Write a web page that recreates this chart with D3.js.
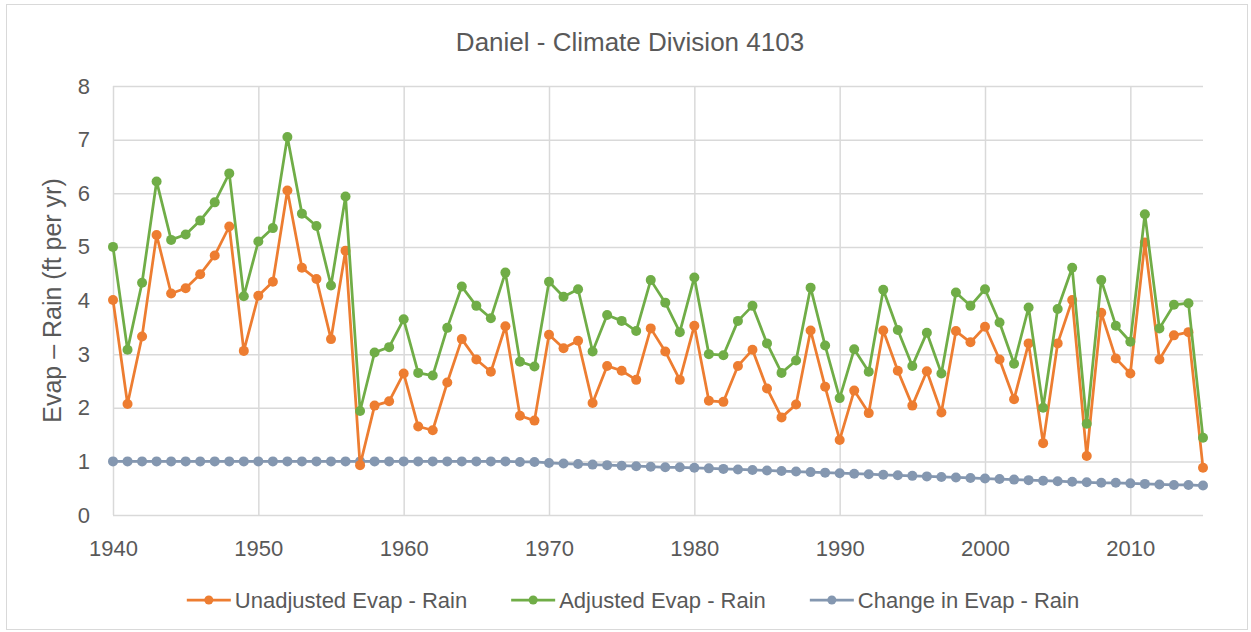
<!DOCTYPE html>
<html>
<head>
<meta charset="utf-8">
<script src="https://cdn.jsdelivr.net/npm/d3@7"></script>
<style>
  body { margin: 0; background: #ffffff; }
  svg { display: block; font-family: "Liberation Sans", Arial, sans-serif; }
</style>
</head>
<body>
<div id="chart"></div>
<script>
// years on the x axis
var years = [1940, 1941, 1942, 1943, 1944, 1945, 1946, 1947, 1948, 1949,
    1950, 1951, 1952, 1953, 1954, 1955, 1956, 1957, 1958, 1959,
    1960, 1961, 1962, 1963, 1964, 1965, 1966, 1967, 1968, 1969,
    1970, 1971, 1972, 1973, 1974, 1975, 1976, 1977, 1978, 1979,
    1980, 1981, 1982, 1983, 1984, 1985, 1986, 1987, 1988, 1989,
    1990, 1991, 1992, 1993, 1994, 1995, 1996, 1997, 1998, 1999,
    2000, 2001, 2002, 2003, 2004, 2005, 2006, 2007, 2008, 2009,
    2010, 2011, 2012, 2013, 2014, 2015];

var unadjusted = [4.01, 2.07, 3.33, 5.22, 4.13, 4.23, 4.49, 4.84, 5.38, 3.06,
    4.09, 4.35, 6.05, 4.61, 4.40, 3.28, 4.93, 0.93, 2.04, 2.12,
    2.64, 1.65, 1.58, 2.47, 3.28, 2.90, 2.67, 3.52, 1.85, 1.76,
    3.36, 3.11, 3.25, 2.09, 2.78, 2.69, 2.52, 3.48, 3.05, 2.52,
    3.53, 2.13, 2.11, 2.78, 3.08, 2.36, 1.82, 2.06, 3.44, 2.39,
    1.40, 2.32, 1.90, 3.44, 2.69, 2.04, 2.68, 1.91, 3.43, 3.22,
    3.51, 2.90, 2.16, 3.20, 1.34, 3.20, 4.01, 1.10, 3.77, 2.92,
    2.64, 5.08, 2.90, 3.35, 3.41, 0.88];

var adjusted = [5.00, 3.08, 4.33, 6.22, 5.13, 5.23, 5.49, 5.83, 6.37, 4.08,
    5.10, 5.35, 7.05, 5.62, 5.39, 4.28, 5.94, 1.94, 3.03, 3.13,
    3.65, 2.65, 2.60, 3.49, 4.26, 3.90, 3.67, 4.52, 2.86, 2.77,
    4.35, 4.07, 4.21, 3.05, 3.73, 3.62, 3.43, 4.38, 3.96, 3.41,
    4.43, 3.00, 2.98, 3.62, 3.90, 3.20, 2.65, 2.88, 4.24, 3.16,
    2.18, 3.09, 2.67, 4.20, 3.45, 2.78, 3.40, 2.64, 4.15, 3.90,
    4.21, 3.59, 2.82, 3.87, 2.00, 3.84, 4.61, 1.70, 4.38, 3.53,
    3.23, 5.61, 3.48, 3.92, 3.95, 1.44];

var change = [1.00, 1.00, 1.00, 1.00, 1.00, 1.00, 1.00, 1.00, 1.00, 1.00,
    1.00, 1.00, 1.00, 1.00, 1.00, 1.00, 1.00, 1.00, 1.00, 1.00,
    1.00, 1.00, 1.00, 1.00, 1.00, 1.00, 1.00, 1.00, 0.99, 0.99,
    0.97, 0.96, 0.95, 0.94, 0.93, 0.92, 0.91, 0.90, 0.89, 0.89,
    0.88, 0.87, 0.86, 0.85, 0.84, 0.83, 0.82, 0.81, 0.80, 0.79,
    0.78, 0.77, 0.76, 0.75, 0.74, 0.73, 0.72, 0.71, 0.70, 0.69,
    0.68, 0.67, 0.66, 0.65, 0.64, 0.63, 0.62, 0.61, 0.60, 0.60,
    0.59, 0.58, 0.57, 0.56, 0.56, 0.55];

var xTicks = [1940, 1950, 1960, 1970, 1980, 1990, 2000, 2010];
var yTicks = [0, 1, 2, 3, 4, 5, 6, 7, 8];
var seriesNames = ["Unadjusted Evap - Rain", "Adjusted Evap - Rain", "Change in Evap - Rain"];
var seriesColours = ["#ED7D31", "#70AD47", "#8497B0"];

//=================== SETUP ====================================
var svgWidth = 1251;
var svgHeight = 632;
var plotLeft = 113, plotRight = 1203, plotTop = 86, plotBottom = 515;
var textColour = "#595959";
var gridColour = "#d9d9d9";

var svg = d3.select("#chart").append("svg")
    .attr("width", svgWidth)
    .attr("height", svgHeight);

// outer chart border
svg.append("rect")
    .attr("x", 6.5).attr("y", 4.5)
    .attr("width", 1241).attr("height", 625)
    .attr("fill", "#ffffff")
    .attr("stroke", "#d9d9d9")
    .attr("stroke-width", 1);

var xScale = d3.scaleLinear().domain([1940, 2015]).range([plotLeft, plotRight]);
var yScale = d3.scaleLinear().domain([0, 8]).range([plotBottom, plotTop]);

//=================== AXES + GRID ====================================
var yAxis = svg.append("g")
    .attr("transform", "translate(" + plotLeft + ",0)")
    .call(d3.axisLeft(yScale).tickValues(yTicks).tickFormat(d3.format("d"))
        .tickSize(-(plotRight - plotLeft)).tickPadding(23));

var xAxis = svg.append("g")
    .attr("transform", "translate(0," + plotBottom + ")")
    .call(d3.axisBottom(xScale).tickValues(xTicks).tickFormat(d3.format("d"))
        .tickSize(-(plotBottom - plotTop)).tickPadding(25));

[yAxis, xAxis].forEach(function (ax) {
    ax.select(".domain").remove();
    ax.selectAll(".tick line")
        .attr("stroke", gridColour)
        .attr("stroke-width", 1.5);
    ax.selectAll(".tick text")
        .attr("fill", textColour)
        .style("font-size", "22px");
});

//=================== SERIES ====================================
var allSeries = [unadjusted, adjusted, change];

var lineGenerator = d3.line()
    .x(function (d, i) { return xScale(years[i]); })
    .y(function (d) { return yScale(d); });

// draw change first so it sits at the back, like the reference
[2, 0, 1].forEach(function (s) {
    var grp = svg.append("g").attr("class", "series-" + s);
    grp.append("path")
        .datum(allSeries[s])
        .attr("d", lineGenerator)
        .attr("fill", "none")
        .attr("stroke", seriesColours[s])
        .attr("stroke-width", 2.75)
        .attr("stroke-linejoin", "round");
    grp.selectAll("circle")
        .data(allSeries[s])
        .enter()
        .append("circle")
        .attr("cx", function (d, i) { return xScale(years[i]); })
        .attr("cy", function (d) { return yScale(d); })
        .attr("r", 5)
        .attr("fill", seriesColours[s]);
});

//=================== TITLES ====================================
svg.append("text")
    .attr("x", 630)
    .attr("y", 51)
    .attr("text-anchor", "middle")
    .attr("fill", textColour)
    .style("font-size", "26px")
    .text("Daniel - Climate Division 4103");

svg.append("text")
    .attr("transform", "translate(61," + ((plotTop + plotBottom) / 2) + ") rotate(-90)")
    .attr("text-anchor", "middle")
    .attr("fill", textColour)
    .style("font-size", "25px")
    .text("Evap \u2013 Rain (ft per yr)");

//=================== LEGEND ====================================
var legend = svg.append("g");
var cursor = 0;
seriesNames.forEach(function (name, s) {
    var item = legend.append("g").attr("transform", "translate(" + cursor + ",0)");
    item.append("line")
        .attr("x1", 0).attr("x2", 44)
        .attr("stroke", seriesColours[s])
        .attr("stroke-width", 2.75);
    item.append("circle")
        .attr("cx", 22).attr("r", 4.5)
        .attr("fill", seriesColours[s]);
    var label = item.append("text")
        .attr("x", 48)
        .attr("dy", "0.35em")
        .attr("fill", textColour)
        .style("font-size", "22px")
        .text(name);
    cursor += 48 + label.node().getComputedTextLength() + 44;
});
var legendWidth = cursor - 44;
legend.attr("transform", "translate(" + (633 - legendWidth / 2) + ",600)");
</script>
</body>
</html>
